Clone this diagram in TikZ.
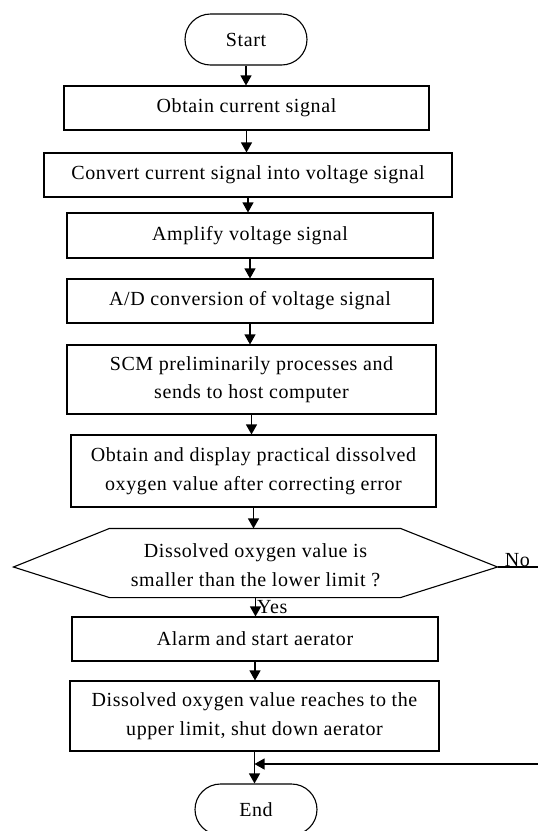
\documentclass[tikz,border=0pt]{standalone}
\usepackage{fontspec}
\setmainfont{Liberation Serif}[LetterSpace=3]
\usetikzlibrary{arrows.meta,shapes.misc}
\tikzset{
  base/.style={line width=1.1pt, font=\fontsize{20}{28.5}\selectfont, align=center, inner sep=0pt},
  procbox/.style={base, draw, rectangle},
  termbox/.style={base, draw, rounded rectangle, minimum width=122pt, minimum height=51pt},
  arr/.style={line width=1.1pt, -{Triangle[length=10pt,width=11pt]}},
  lbl/.style={font=\fontsize{20}{20}\selectfont, inner sep=1pt}
}
\begin{document}
\begin{tikzpicture}[x=1pt,y=-1pt]
\clip (0,0) rectangle (538,831);
\fill[white] (0,0) rectangle (538,831);
\node[termbox] (start) at (246,39.5) {Start};
\node[procbox, minimum width=365pt, minimum height=44pt] (obtain) at (246.5,108) {Obtain current signal};
\node[procbox, minimum width=408pt, minimum height=44pt] (convert) at (248,175) {Convert current signal into voltage signal};
\node[procbox, minimum width=366pt, minimum height=45pt] (amplify) at (250,235.5) {Amplify voltage signal};
\node[procbox, minimum width=366pt, minimum height=44pt] (ad) at (250,301) {A/D conversion of voltage signal};
\node[procbox, minimum width=369pt, minimum height=69pt] (scm) at (251.5,379.5) {SCM preliminarily processes and\\sends to host computer};
\node[procbox, minimum width=365pt, minimum height=72pt] (display) at (253.5,471) {Obtain and display practical dissolved\\oxygen value after correcting error};
\node[base, minimum width=483pt, minimum height=68pt] (hex) at (255.5,565) {Dissolved oxygen value is\\smaller than the lower limit ?};
\draw[line width=1.1pt] ([yshift=-2pt]hex.west) -- ([xshift=96pt,yshift=2pt]hex.north west) -- ([xshift=-97pt,yshift=2pt]hex.north east) -- ([yshift=-2pt]hex.east) -- ([xshift=-97pt,yshift=2pt]hex.south east) -- ([xshift=96pt,yshift=2pt]hex.south west) -- cycle;
\node[procbox, minimum width=366pt, minimum height=44pt] (alarm) at (255,639) {Alarm and start aerator};
\node[procbox, minimum width=369pt, minimum height=70pt] (reach) at (254.5,716) {Dissolved oxygen value reaches to the\\upper limit, shut down aerator};
\node[termbox] (end) at (256,809.5) {End};
\coordinate (merge) at (254.5,764);
\draw[arr] (start.south) -- (start.south |- obtain.north);
\draw[arr] (obtain.south) -- (obtain.south |- convert.north);
\draw[arr] (convert.south) -- (convert.south |- amplify.north);
\draw[arr] (amplify.south) -- (amplify.south |- ad.north);
\draw[arr] (ad.south) -- (ad.south |- scm.north);
\draw[arr] (scm.south) -- (scm.south |- display.north);
\draw[arr] (display.south) -- ([yshift=2pt]display.south |- hex.north);
\draw[arr] ([yshift=2pt]hex.south) -- node[lbl, anchor=west, pos=0.5] {Yes} (hex.south |- alarm.north);
\draw[arr] (alarm.south) -- (alarm.south |- reach.north);
\draw[arr] (reach.south) -- (reach.south |- end.north);
\draw[arr] ([yshift=-2pt]hex.east) -- ++(70,0) |- (merge);
\node[lbl, anchor=south west] (no) at ([xshift=6pt,yshift=-3pt]hex.east) {No};
\end{tikzpicture}
\end{document}
